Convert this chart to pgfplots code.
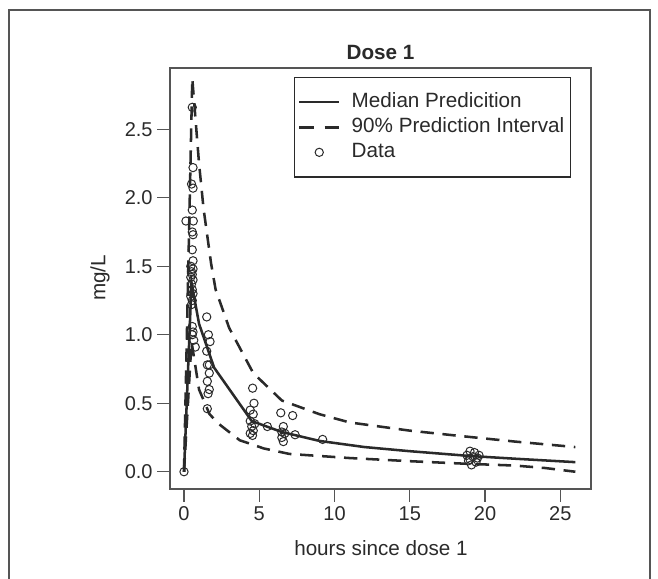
\documentclass[border=0pt]{standalone}
\usepackage{fontspec}
\setmainfont{Liberation Sans}
\usepackage{pgfplots}
\pgfplotsset{compat=1.18}
\definecolor{ink}{HTML}{2A2A2A}
\definecolor{frame}{HTML}{555555}
\pgfplotsset{
  lineleg/.style={legend image code/.code={\draw[##1] (0pt,0pt) -- (30pt,0pt);}},
  dashleg/.style={legend image code/.code={\draw[##1, dash pattern=on 11pt off 8pt] (0pt,0pt) -- (30pt,0pt);}},
  markleg/.style={legend image code/.code={\draw[##1] plot coordinates {(15pt,0pt)};}},
}

\begin{document}
\begin{tikzpicture}
\begin{scope}[x=0.75pt,y=0.75pt]
  \useasboundingbox (0,0) rectangle (658,579);
  \draw[frame, line width=1.1pt] (9,-2) -- (9,569) -- (650,569) -- (650,-2);
  \node[font=\fontsize{15.5}{18}\selectfont\bfseries, text=ink] at (380.5,527) {Dose 1};
  \node[font=\fontsize{15.5}{18}\selectfont, text=ink, rotate=90] at (100,301) {mg/L};
  \node[font=\fontsize{15.5}{18}\selectfont, text=ink] at (381,31) {hours since dose 1};
\end{scope}
\begin{axis}[
  at={(127.5pt,67.5pt)}, anchor=south west,
  scale only axis, width=315.75pt, height=315.75pt,
  xmin=-0.93, xmax=27.04, ymin=-0.126, ymax=2.947,
  xtick={0,5,10,15,20,25}, ytick={0,0.5,1.0,1.5,2.0,2.5},
  yticklabel style={/pgf/number format/.cd, fixed, fixed zerofill, precision=1},
  /pgf/number format/assume math mode=true,
  ticklabel style={font=\fontsize{15}{18}\selectfont, text=ink},
  tick pos=left, tick align=outside, major tick length=9.5pt,
  tick style={frame, line width=1pt},
  axis line style={frame, line width=1.1pt},
  legend style={at={(0.2945,0.9786)}, anchor=north west, draw=ink, line width=1pt,
    inner xsep=2.5pt, inner ysep=9pt, column sep=6pt,
    font=\fontsize{15.5}{18}\selectfont, text=ink,
    nodes={text height=11pt, text depth=3pt, inner sep=2.4pt}},
  legend cell align=left,
]
% median prediction
\addplot[ink, line width=1.9pt, lineleg]
  coordinates {(0,0) (0.5,1.38) (1.0,1.08) (2.0,0.76) (4.5,0.37) (6.5,0.29)
    (9,0.225) (12,0.18) (15,0.15) (19,0.115) (22,0.095) (26,0.07)};
\addlegendentry{Median Predicition}
% 95th percentile
\addplot[ink, line width=1.9pt, dash pattern=on 10pt off 6.5pt, dashleg]
  coordinates {(0,0) (0.55,2.87) (1.0,2.25) (1.3,1.92) (1.8,1.52) (2.1,1.33)
    (3.0,1.05) (4.6,0.72) (6.5,0.52) (9,0.42) (11,0.36) (15,0.30) (18,0.265)
    (22,0.22) (26,0.18)};
\addlegendentry{90\% Prediction Interval}
% 5th percentile
\addplot[ink, line width=1.9pt, dash pattern=on 10pt off 6.5pt, forget plot]
  coordinates {(0,0) (0.5,0.95) (1.0,0.6) (1.7,0.42) (2.3,0.35) (3.7,0.23)
    (5.3,0.17) (7,0.13) (11,0.1) (15,0.077) (18.8,0.058) (22,0.045) (24,0.027) (26,0.0)};
% observed data
\addplot[only marks, mark=o, mark size=3.1pt, mark options={ink, line width=0.75pt}, markleg]
  coordinates {
    (0,0)
    (0.55,2.66) (0.6,2.22) (0.5,2.10) (0.6,2.07) (0.55,1.91) (0.13,1.83) (0.62,1.83)
    (0.55,1.75) (0.6,1.73) (0.55,1.62) (0.6,1.54) (0.45,1.50) (0.6,1.48) (0.5,1.46)
    (0.55,1.44) (0.45,1.42) (0.6,1.40) (0.5,1.37) (0.55,1.33) (0.6,1.30) (0.45,1.28)
    (0.55,1.25) (0.5,1.22) (0.55,1.06) (0.6,1.02) (0.55,1.0) (0.65,0.96) (0.75,0.91)
    (1.51,1.13) (1.62,1.00) (1.73,0.95) (1.51,0.88) (1.55,0.78) (1.68,0.78) (1.68,0.72)
    (1.55,0.66) (1.68,0.60) (1.6,0.57) (1.55,0.46)
    (4.56,0.61) (4.65,0.50) (4.4,0.45) (4.6,0.42) (4.4,0.37) (4.7,0.35) (4.5,0.33)
    (4.6,0.30) (4.4,0.28) (4.55,0.265) (5.54,0.33)
    (6.43,0.43) (7.22,0.41) (6.6,0.33) (6.5,0.29) (6.7,0.28) (6.6,0.22) (6.5,0.25)
    (7.38,0.27) (9.21,0.236)
    (19.0,0.15) (19.3,0.14) (18.8,0.12) (19.2,0.11) (19.5,0.10) (19.0,0.09) (19.4,0.07)
    (19.1,0.05) (19.6,0.12) (18.9,0.08)};
\addlegendentry{Data}
\end{axis}
\end{tikzpicture}
\end{document}
